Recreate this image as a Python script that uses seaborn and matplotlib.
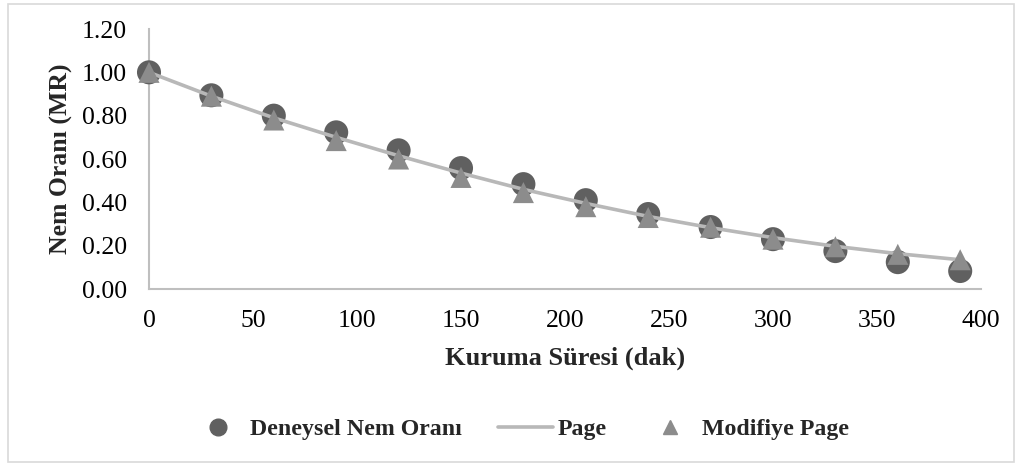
import numpy as np
import pandas as pd
import matplotlib
matplotlib.use("Agg")
import matplotlib.pyplot as plt
from matplotlib.patches import Rectangle
from matplotlib.lines import Line2D
import seaborn as sns

# Drying time (min) and moisture ratio values
sure = [0, 30, 60, 90, 120, 150, 180, 210, 240, 270, 300, 330, 360, 390]
deneysel = [1.00, 0.894, 0.80, 0.723, 0.64, 0.558, 0.484, 0.41, 0.346, 0.286, 0.23, 0.175, 0.124, 0.083]
page = [1.00, 0.89, 0.79, 0.70, 0.615, 0.535, 0.46, 0.395, 0.335, 0.283, 0.237, 0.197, 0.163, 0.135]
modifiye_page = [1.00, 0.89, 0.78, 0.685, 0.60, 0.515, 0.445, 0.38, 0.33, 0.285, 0.23, 0.195, 0.16, 0.135]

x_ticks = [0, 50, 100, 150, 200, 250, 300, 350, 400]
y_ticks = [0.0, 0.2, 0.4, 0.6, 0.8, 1.0, 1.2]

df = pd.DataFrame({"sure": sure, "deneysel": deneysel, "page": page, "mod": modifiye_page})

sns.set_style("white")
plt.rcParams["font.family"] = ["Liberation Serif", "DejaVu Serif"]

W, H = 1023, 468
fig = plt.figure(figsize=(W / 100, H / 100), dpi=100)
ax_l, ax_r, ax_t, ax_b = 149, 981, 29, 289
ax = fig.add_axes([ax_l / W, 1 - ax_b / H, (ax_r - ax_l) / W, (ax_b - ax_t) / H])

c_circle = "#606060"
c_line = "#b8b8b8"
c_tri = "#8c8c8c"

sns.scatterplot(data=df, x="sure", y="deneysel", ax=ax, marker="o", s=300,
                color=c_circle, edgecolor="none", zorder=3, legend=False)
sns.lineplot(data=df, x="sure", y="page", ax=ax, color=c_line, linewidth=2.6,
             zorder=4, legend=False)
sns.scatterplot(data=df, x="sure", y="mod", ax=ax, marker="^", s=230,
                color=c_tri, edgecolor="none", zorder=5, legend=False)

ax.set_xlim(0, 400)
ax.set_ylim(0, 1.2)
ax.set_xticks(x_ticks)
ax.set_yticks(y_ticks)
ax.set_xticklabels([str(v) for v in x_ticks], fontsize=18.5)
ax.set_yticklabels([f"{v:.2f}" for v in y_ticks], fontsize=18.5)
ax.tick_params(axis="both", length=0, colors="#000000")
ax.tick_params(axis="x", pad=15)
ax.tick_params(axis="y", pad=16)

for side in ["top", "right"]:
    ax.spines[side].set_visible(False)
for side in ["left", "bottom"]:
    ax.spines[side].set_color("#bfbfbf")
    ax.spines[side].set_linewidth(1.5)

ax.set_xlabel("Kuruma Süresi (dak)", fontsize=19, fontweight="bold")
ax.set_ylabel("Nem Oranı (MR)", fontsize=18.5, fontweight="bold")
ax.xaxis.set_label_coords(0.5, (ax_b - 347) / (ax_b - ax_t))
ax.yaxis.set_label_coords((73 - ax_l) / (ax_r - ax_l), 0.5)

for coll in ax.collections:
    coll.set_clip_on(False)
for ln in ax.lines:
    ln.set_clip_on(False)

handles = [
    Line2D([], [], marker="o", color=c_circle, linestyle="none", markersize=12),
    Line2D([], [], color=c_line, linewidth=2.6),
    Line2D([], [], marker="^", color=c_tri, linestyle="none", markersize=10.5),
]
labels = ["Deneysel Nem Oranı", "Page", "Modifiye Page"]
fig.legend(handles, labels, loc="center", bbox_to_anchor=(520 / W, 1 - 429 / H),
           ncol=3, frameon=False, prop={"size": 17.2, "weight": "bold"},
           handlelength=2.3, columnspacing=1.5, handletextpad=0.19)

fig.patches.append(Rectangle((8 / W, 6 / H), 1006 / W, 458 / H,
                             transform=fig.transFigure, fill=False,
                             edgecolor="#d9d9d9", linewidth=1.2))

fig.savefig("out.png", dpi=100)
